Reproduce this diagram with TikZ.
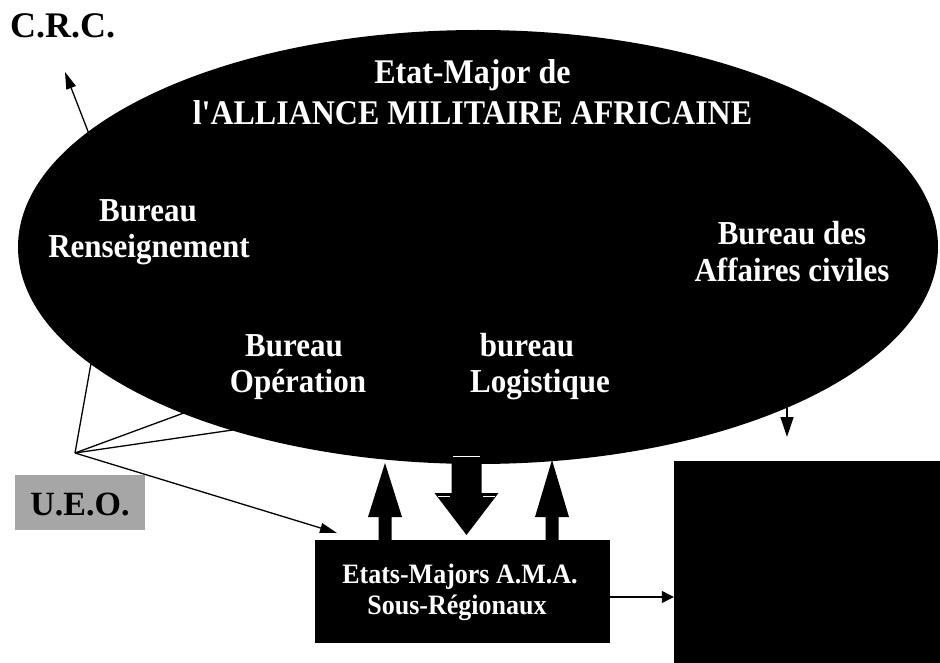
\documentclass[tikz,border=0pt]{standalone}
\usepackage{fontspec}
\setmainfont{Liberation Serif}
\usetikzlibrary{shapes.geometric,arrows.meta}
\newcommand\tallt[1]{\scalebox{1}[1.08]{#1}}
\begin{document}
\begin{tikzpicture}[x=1pt,y=-1pt,
  wt/.style={text=white,font=\bfseries\fontsize{31}{31}\selectfont,anchor=base,inner sep=0pt},
  ttl/.style={text=white,font=\bfseries\fontsize{32}{32}\selectfont,anchor=base,inner sep=0pt},
  bx/.style={text=white,font=\bfseries\fontsize{26}{26}\selectfont,anchor=base,inner sep=0pt},
  thinline/.style={line width=1.3pt},
  tip/.style={-{Triangle[length=17pt,width=10pt]}},
  blockarrow/.style={fill=black},
]
\useasboundingbox (0,0) rectangle (940,663);
\fill[white] (0,0) rectangle (940,663);

% thin connectors (drawn before the ellipse so they end on its border)
\coordinate (p) at (75,453);
\coordinate (i1) at (97,330);
\coordinate (i2) at (200,407);
\coordinate (i3) at (260,426);
\coordinate (c0) at (96,152);
\coordinate (c1) at (65,72);
\coordinate (t) at (337,533);
\draw[thinline] (p) -- (i1);
\draw[thinline] (p) -- (i2);
\draw[thinline] (p) -- (i3);
\draw[thinline,tip] (c0) -- (c1);
\draw[thinline,tip] (p) -- (t);

% main ellipse
\node[ellipse,fill=black,minimum width=920pt,minimum height=434pt,inner sep=0pt] (ema) at (478,247) {};

% texts in ellipse
\node[ttl] (t1) at (472.5,84) {\tallt{Etat-Major de}};
\node[ttl] (t2) at (472.5,125) {\tallt{l\textquotesingle ALLIANCE MILITAIRE AFRICAINE}};
\node[wt] (r1) at (148,222) {\tallt{Bureau}};
\node[wt] (r2) at (149,258) {\tallt{Renseignement}};
\node[wt] (a1) at (792,245) {\tallt{Bureau des}};
\node[wt] (a2) at (792,282) {\tallt{Affaires civiles}};
\node[wt] (o1) at (294,356) {\tallt{Bureau}};
\node[wt] (o2) at (298,392) {\tallt{Opération}};
\node[wt] (l1) at (527,356) {\tallt{bureau}};
\node[wt] (l2) at (540,392) {\tallt{Logistique}};

% boxes
\node[fill=black,minimum width=295pt,minimum height=103pt,inner sep=0pt] (ama) at (462.5,591.5) {};
\node[bx] (b1) at (460,583) {\tallt{Etats-Majors A.M.A.}};
\node[bx] (b2) at (457,614) {\tallt{Sous-Régionaux}};
\node[fill=black,minimum width=266pt,minimum height=202pt,inner sep=0pt] (rb) at (807,562) {};

% labels outside
\node[anchor=base west,inner sep=0pt,font=\bfseries\fontsize{36}{36}\selectfont] (crc) at (10,38) {C.R.C.};
\node[fill=black!35,minimum width=130pt,minimum height=55pt,inner sep=0pt] (ueo) at (80,502.5) {};
\node[anchor=base,inner sep=0pt,font=\bfseries\fontsize{34}{34}\selectfont] (ueot) at (80,515) {U.E.O.};

% block arrows between box and ellipse
\fill[blockarrow] (378.5,540) -- (378.5,517) -- (368,517) -- (385,463) -- (402,517) -- (391.5,517) -- (391.5,540) -- cycle;
\fill[blockarrow] (545.5,540) -- (545.5,517) -- (535,517) -- (552,460) -- (569,517) -- (558.5,517) -- (558.5,540) -- cycle;
\fill[blockarrow] (451.5,455) -- (481.5,455) -- (481.5,493) -- (498.5,493) -- (466.5,535) -- (434.5,493) -- (451.5,493) -- cycle;
\draw[white,line width=1.5pt] (453,456.5) -- (480,456.5);
\draw[white,line width=1pt] (438,496) -- (450,496);
\draw[white,line width=1pt] (483,496) -- (495,496);

% small arrows
\coordinate (s0) at (787,395);
\coordinate (s1) at (787,437);
\draw[thinline,-{Triangle[length=20pt,width=13pt]}] (s0) -- (s1);
\coordinate (yy) at (0,597);
\draw[thinline,-{Triangle[length=12pt,width=12pt]}] (ama.east |- yy) -- (rb.west |- yy);
\end{tikzpicture}
\end{document}
